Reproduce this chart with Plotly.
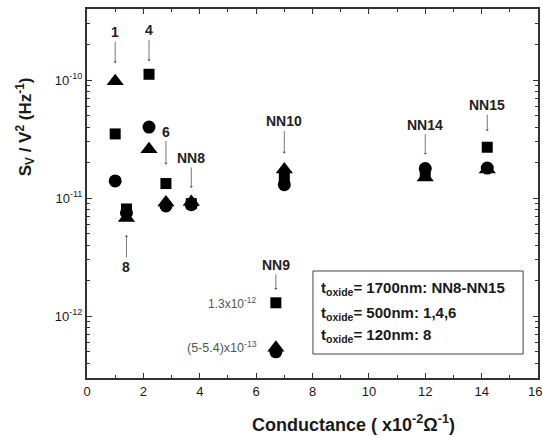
import math
import plotly.graph_objects as go

# ---- data ----
samples = ["1", "4", "6", "NN8", "8", "NN10", "NN14", "NN15", "NN9"]
conductance = [1.0, 2.2, 2.8, 3.7, 1.4, 7.0, 12.0, 14.2, 6.7]
sq_vals = [3.5e-11, 1.12e-10, 1.33e-11, 9.0e-12, 8.1e-12, 1.52e-11, 1.62e-11, 2.7e-11, 1.3e-12]
ci_vals = [1.4e-11, 4.0e-11, 8.6e-12, 8.8e-12, 7.5e-12, 1.3e-11, 1.78e-11, 1.8e-11, 5.0e-13]
tr_vals = [9.8e-11, 2.6e-11, 9.2e-12, 9.3e-12, 6.8e-12, 1.75e-11, 1.5e-11, 1.75e-11, 5.4e-13]

x_ticks = [0, 2, 4, 6, 8, 10, 12, 14, 16]
x_ticktext = ["0", "2", "4", "6", "8", "10", "12", "14", ""]
x_edge_label = "16"
y_ticks = [1e-12, 1e-11, 1e-10]
y_ticktext = ["10<sup>-12</sup>", "10<sup>-11</sup>", "10<sup>-10</sup>"]
legend_lines = ["t<sub>oxide</sub>= 1700nm: NN8-NN15",
                "t<sub>oxide</sub>= 500nm: 1,4,6",
                "t<sub>oxide</sub>= 120nm: 8"]

FONT = "Liberation Sans, Arial, sans-serif"
INK = "#1a1a1a"
AX = "#333333"

fig = go.Figure()
fig.add_trace(go.Scatter(x=conductance, y=sq_vals, mode="markers", name="square",
                         marker=dict(symbol="square", size=11, color="black")))
fig.add_trace(go.Scatter(x=conductance, y=ci_vals, mode="markers", name="circle",
                         marker=dict(symbol="circle", size=13, color="black")))
fig.add_trace(go.Scatter(x=conductance, y=tr_vals, mode="markers", name="triangle",
                         marker=dict(symbol="triangle-up", size=15, color="black")))

# sample labels with arrows: (anchor = top/bottom, standoff px, ay px)
label_specs = {
    "1": ("top", 18, -49),
    "4": ("top", 13, -44),
    "6": ("top", 19, -52),
    "NN8": ("top", 14, -44),
    "8": ("bottom", 17, 49),
    "NN10": ("top", 16, -48),
    "NN14": ("top", 14, -44),
    "NN15": ("top", 16, -42),
    "NN9": ("top", 13, -38),
}
for i, s in enumerate(samples):
    side, standoff, ay = label_specs[s]
    vals = [sq_vals[i], ci_vals[i], tr_vals[i]]
    yv = max(vals) if side == "top" else min(vals)
    fig.add_annotation(x=conductance[i], y=math.log10(yv), xref="x", yref="y",
                       text="<b>" + s + "</b>", showarrow=True, ax=0, ay=ay, standoff=standoff,
                       arrowhead=1, arrowsize=0.7, arrowwidth=0.8, arrowcolor="#555",
                       font=dict(family=FONT, size=14, color="#222"))

# NN9 value notes
fig.add_annotation(x=conductance[8], y=math.log10(sq_vals[8]), xref="x", yref="y",
                   text="1.3x10<sup>-12</sup>", showarrow=False, xanchor="right", yanchor="middle",
                   xshift=-18, font=dict(family=FONT, size=12, color="#555"))
fig.add_annotation(x=conductance[8], y=math.log10((ci_vals[8] + tr_vals[8]) / 2), xref="x", yref="y",
                   text="(5-5.4)x10<sup>-13</sup>", showarrow=False, xanchor="right", yanchor="middle",
                   xshift=-17, yshift=3, font=dict(family=FONT, size=12.5, color="#555"))

# legend box
fig.add_shape(type="rect", xref="paper", yref="paper", x0=0.501, x1=0.967, y0=0.065, y1=0.290,
              line=dict(color="#444", width=1), fillcolor="rgba(0,0,0,0)")
for j, t in enumerate(legend_lines):
    fig.add_annotation(xref="paper", yref="paper", x=0.514, y=[0.2415, 0.176, 0.114][j],
                       text="<b>" + t + "</b>", showarrow=False, xanchor="left", yanchor="middle",
                       font=dict(family=FONT, size=15, color=INK))

# y title
fig.add_annotation(xref="paper", yref="paper", x=-0.1375, y=0.682, textangle=-90,
                   xanchor="center", yanchor="middle",
                   text="<b>S<sub>V</sub> / V<sup>2</sup> (Hz<sup>-1</sup>)</b>", showarrow=False,
                   font=dict(family=FONT, size=17, color=INK))

# x title
fig.add_annotation(xref="paper", yref="paper", x=0.592, y=-0.122, xanchor="center", yanchor="middle",
                   text="<b>Conductance ( x10<sup>-2</sup>Ω<sup>-1</sup>)</b>", showarrow=False,
                   font=dict(family=FONT, size=18, color=INK))

# last x tick label, nudged so it stays inside the page
fig.add_annotation(x=16, xref="x", yref="paper", y=0, yanchor="top", yshift=-4, xshift=-3,
                   text=x_edge_label, showarrow=False, xanchor="center",
                   font=dict(family=FONT, size=13, color=INK))

minor_y = [m * 10.0 ** e for e in (-13, -12, -11, -10) for m in range(2, 10)]

fig.update_layout(
    width=543, height=436,
    margin=dict(l=87, r=5, t=9, b=58),
    paper_bgcolor="white", plot_bgcolor="white",
    showlegend=False,
    font=dict(family=FONT, color=INK),
    xaxis=dict(range=[0, 16], tickvals=x_ticks, ticktext=x_ticktext, ticks="inside", ticklen=5,
               tickwidth=1, tickcolor=AX, showline=True, linecolor=AX, linewidth=2, mirror="ticks",
               showgrid=False, zeroline=False, automargin=False,
               minor=dict(dtick=1, tick0=0, ticks="inside", ticklen=3, tickcolor=AX, showgrid=False),
               tickfont=dict(size=13, color=INK)),
    yaxis=dict(type="log", range=[math.log10(3e-13), math.log10(4e-10)],
               tickvals=y_ticks, ticktext=y_ticktext, ticks="inside", ticklen=5, tickwidth=1,
               tickcolor=AX, showline=True, linecolor=AX, linewidth=2, mirror="ticks",
               showgrid=False, zeroline=False, automargin=False,
               minor=dict(tickvals=minor_y, ticks="inside", ticklen=3, tickcolor=AX, showgrid=False),
               tickfont=dict(size=13, color=INK)),
)

fig.write_html("out.html")
